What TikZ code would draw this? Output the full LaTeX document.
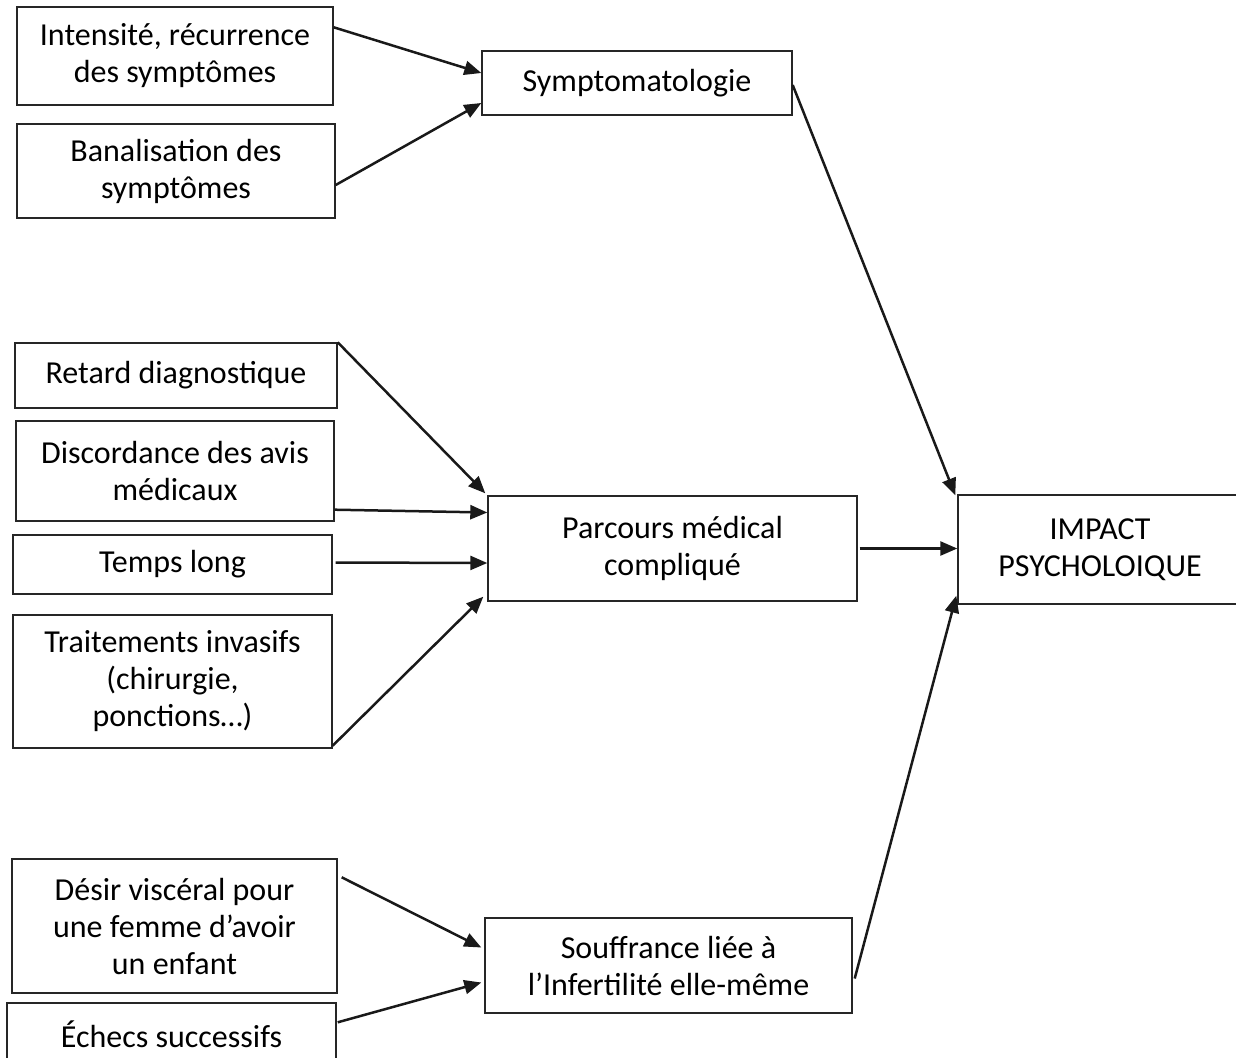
\documentclass[tikz,border=0pt]{standalone}
\usepackage{fontspec}
\setmainfont{Carlito}
\usetikzlibrary{arrows.meta,calc}
\tikzset{
  box/.style={draw=black!85, line width=1.4pt, align=center, inner sep=0pt,
    font=\fontsize{32}{37}\selectfont},
  arr/.style={line width=2.5pt, draw=black!90,
    -{Triangle[length=17pt,width=14pt]}}
}
\begin{document}
\begin{tikzpicture}[x=1pt,y=-1pt]
\useasboundingbox (0,0) rectangle (1236,1057);
% left column top
\node[box, minimum width=316pt, minimum height=98pt] (A) at (175,56) {Intensité, récurrence\\des symptômes};
\node[box, minimum width=318pt, minimum height=94pt] (B) at (176,171) {Banalisation des\\symptômes};
\node[box, minimum width=310pt, minimum height=64pt] (S) at (637,83) {Symptomatologie};
% middle group
\node[box, minimum width=322pt, minimum height=65pt] (R) at (176,375.5) {Retard diagnostique};
\node[box, minimum width=318pt, minimum height=100pt] (D) at (175,471) {Discordance des avis\\médicaux};
\node[box, minimum width=319pt, minimum height=59pt] (T) at (172.5,564.5) {Temps long};
\node[box, minimum width=319pt, minimum height=133pt] (Tr) at (172.5,681.5) {Traitements invasifs\\(chirurgie,\\ponctions…)};
\node[box, minimum width=369pt, minimum height=105pt] (P) at (672.5,548.5) {Parcours médical\\compliqué};
\node[box, minimum width=284pt, minimum height=109pt] (I) at (1100,549.5) {IMPACT\\PSYCHOLOIQUE};
% bottom group
\node[box, minimum width=325pt, minimum height=134pt] (De) at (174.5,926) {Désir viscéral pour\\une femme d’avoir\\un enfant};
\node[box, minimum width=329pt, minimum height=62pt] (E) at (171.5,1034) {Échecs successifs};
\node[box, minimum width=367pt, minimum height=95pt] (So) at (668.5,965.5) {Souffrance liée à\\l’Infertilité elle-même};
% connectors
\draw[arr] ([yshift=-21pt]A.north east) -- ([yshift=10pt]S.west);
\draw[arr] ([yshift=-14pt]B.east) -- ([yshift=-20pt]S.west);
\draw[arr] ([yshift=-2pt]S.east) -- ([xshift=-2pt,yshift=-1pt]I.north west);
\draw[arr] (R.north east) -- ([xshift=-2pt,yshift=2pt]P.north west);
\draw[arr] ([yshift=12pt]D.south east) -- ([yshift=36pt]P.west);
\draw[arr] ([xshift=3pt,yshift=2pt]T.east) -- ([yshift=-14.5pt]P.west);
\draw[arr] ([yshift=3pt]Tr.south east) -- ([xshift=-4pt,yshift=5pt]P.south west);
\draw[arr] ([xshift=2pt]P.east) -- (P.east -| I.west);
\draw[arr] ([xshift=2pt,yshift=-13pt]So.east) -- ([xshift=-1pt,yshift=9pt]I.south west);
\draw[arr] ([xshift=4pt,yshift=-19pt]De.north east) -- ([xshift=-3pt,yshift=18pt]So.west);
\draw[arr] ([xshift=1pt,yshift=-20pt]E.north east) -- ([xshift=-3pt,yshift=-17pt]So.west);
\end{tikzpicture}
\end{document}
